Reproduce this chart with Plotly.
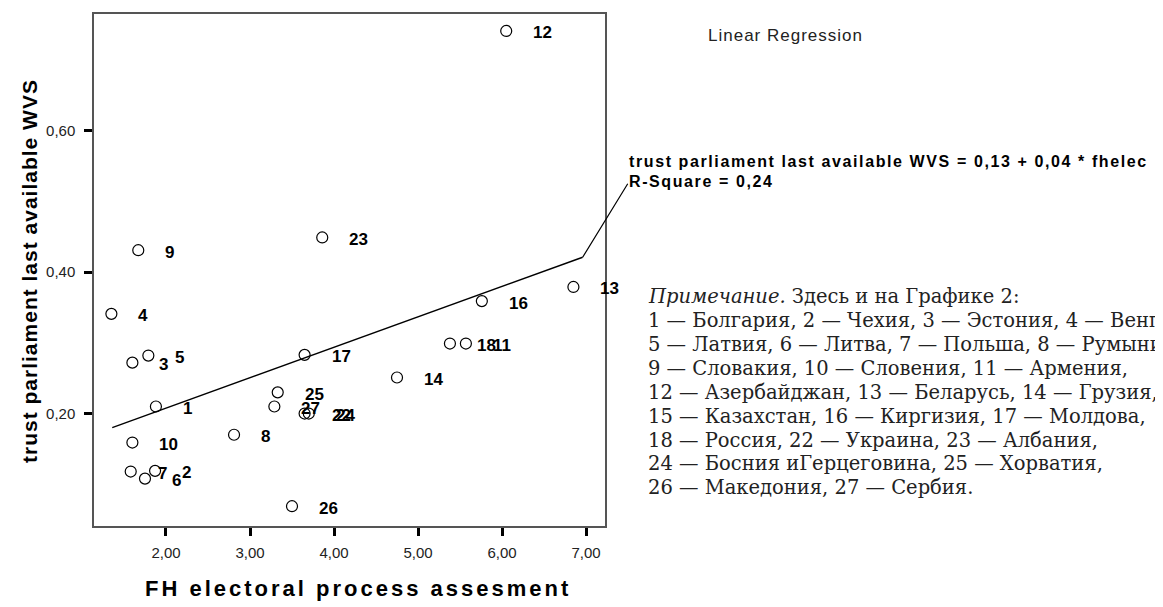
import plotly.graph_objects as go

# ---- data ----
point_labels = ["1", "2", "3", "4", "5", "6", "7", "8", "9", "10", "11", "12",
                "13", "14", "16", "17", "18", "22", "23", "24", "25", "26", "27"]
fh_electoral = [1.88, 1.87, 1.60, 1.35, 1.79, 1.75, 1.58, 2.81, 1.67, 1.60, 5.57, 6.05,
                6.85, 4.75, 5.76, 3.65, 5.38, 3.65, 3.86, 3.70, 3.33, 3.50, 3.29]
trust_parliament = [0.210, 0.119, 0.272, 0.341, 0.282, 0.108, 0.118, 0.170, 0.431, 0.159, 0.299, 0.741,
                    0.379, 0.251, 0.359, 0.283, 0.299, 0.200, 0.449, 0.200, 0.230, 0.069, 0.210]

fit_x = [1.36, 6.96]
fit_y = [0.180, 0.421]

x_ticks = [2, 3, 4, 5, 6, 7]
y_ticks = [0.2, 0.4, 0.6]

note_lines = [
    "<i>Примечание.</i> Здесь и на Графике 2:",
    "1 — Болгария, 2 — Чехия, 3 — Эстония, 4 — Венгрия,",
    "5 — Латвия, 6 — Литва, 7 — Польша, 8 — Румыния,",
    "9 — Словакия, 10 — Словения, 11 — Армения,",
    "12 — Азербайджан, 13 — Беларусь, 14 — Грузия,",
    "15 — Казахстан, 16 — Киргизия, 17 — Молдова,",
    "18 — Россия, 22 — Украина, 23 — Албания,",
    "24 — Босния иГерцеговина, 25 — Хорватия,",
    "26 — Македония, 27 — Сербия.",
]

# ---- layout geometry (window pixels; the page body adds an 8px offset) ----
OFF = 8
W, H = 1163, 607 - OFF
L, R, T, B = 94 - OFF, 605 - OFF, 12 - OFF, 526 - OFF


def px(xp):
    return (xp - OFF - L) / (R - L)


def py(yp):
    return (B - (yp - OFF)) / (B - T)


SANS = "Arial, Liberation Sans"


def spaced(text, sp):
    return '<span style="letter-spacing:%spx">%s</span>' % (sp, text)


fig = go.Figure()

fig.add_trace(go.Scatter(
    x=fit_x, y=fit_y, mode="lines",
    line=dict(color="black", width=1.4),
    hoverinfo="skip", showlegend=False,
))

fig.add_trace(go.Scatter(
    x=fh_electoral, y=trust_parliament, mode="markers",
    marker=dict(symbol="circle-open", size=11, color="black",
                line=dict(color="black", width=1.2)),
    showlegend=False,
))

annotations = []
for lab, xv, yv in zip(point_labels, fh_electoral, trust_parliament):
    annotations.append(dict(
        x=xv, y=yv, xref="x", yref="y", text=lab, showarrow=False,
        xanchor="left", yanchor="middle", xshift=25, yshift=-2,
        font=dict(family=SANS, size=17, color="black", weight="bold"),
    ))

# leader line from the fit line to the equation
annotations.append(dict(
    x=fit_x[-1], y=fit_y[-1], xref="x", yref="y", text="",
    showarrow=True, arrowhead=0, arrowwidth=1.2, arrowcolor="black",
    ax=46, ay=-75, standoff=0, startstandoff=0,
))

annotations.append(dict(
    x=px(706), y=py(34), xref="paper", yref="paper", text=spaced("Linear Regression", 1),
    showarrow=False, xanchor="left", yanchor="middle",
    font=dict(family=SANS, size=17, color="#222"),
))
annotations.append(dict(
    x=px(627), y=py(160), xref="paper", yref="paper",
    text=spaced("trust parliament last available WVS = 0,13 + 0,04 * fhelec", 1.6),
    showarrow=False, xanchor="left", yanchor="middle",
    font=dict(family=SANS, size=16, color="black", weight="bold"),
))
annotations.append(dict(
    x=px(627), y=py(180), xref="paper", yref="paper",
    text=spaced("R-Square = 0,24", 1.6),
    showarrow=False, xanchor="left", yanchor="middle",
    font=dict(family=SANS, size=16, color="black", weight="bold"),
))

note_y = [296, 320, 344, 368, 392, 416, 440, 463, 487]
for line, yy in zip(note_lines, note_y):
    annotations.append(dict(
        x=px(646), y=py(yy), xref="paper", yref="paper", text=line,
        showarrow=False, xanchor="left", yanchor="middle",
        font=dict(family="DejaVu Serif", size=19.5, color="#222"),
    ))

# axis titles
annotations.append(dict(
    x=px(30), y=py(270), xref="paper", yref="paper",
    text=spaced("trust parliament last available WVS", 1), textangle=-90,
    showarrow=False, xanchor="center", yanchor="middle",
    font=dict(family=SANS, size=21, color="black", weight="bold"),
))
annotations.append(dict(
    x=px(358), y=py(589), xref="paper", yref="paper",
    text=spaced("FH electoral process assesment", 3),
    showarrow=False, xanchor="center", yanchor="middle",
    font=dict(family=SANS, size=22, color="black", weight="bold"),
))

fig.update_layout(
    width=W, height=H,
    margin=dict(l=L, r=W - R, t=T, b=H - B),
    paper_bgcolor="white", plot_bgcolor="white",
    separators=", ",
    annotations=annotations,
    showlegend=False,
)

fig.update_xaxes(
    range=[1.143, 7.226], tickvals=x_ticks, tickformat=".2f",
    showgrid=False, zeroline=False,
    showline=True, linecolor="#555", linewidth=1.5, mirror=True,
    ticks="outside", ticklen=8, tickwidth=3, tickcolor="black",
    ticklabelstandoff=4,
    tickfont=dict(family=SANS, size=15, color="#222"),
)
fig.update_yaxes(
    range=[0.041, 0.765], tickvals=y_ticks, tickformat=".2f",
    showgrid=False, zeroline=False,
    showline=True, linecolor="#555", linewidth=1.5, mirror=True,
    ticks="outside", ticklen=8, tickwidth=3, tickcolor="black",
    ticklabelstandoff=6,
    tickfont=dict(family=SANS, size=15, color="#222"),
)

fig.write_html("out.html")
